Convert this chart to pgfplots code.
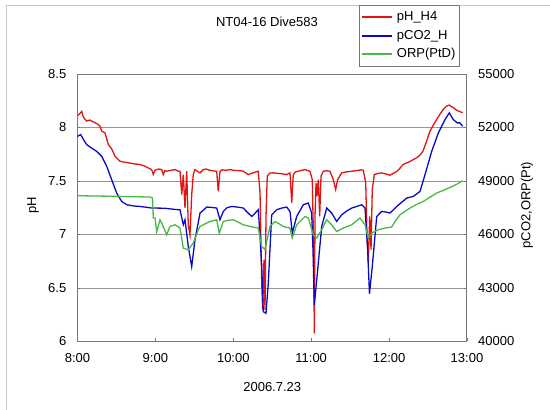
\documentclass[border=0pt]{standalone}
\usepackage{pgfplots}
\pgfplotsset{compat=1.18}
\usepackage{fontspec}
\setmainfont{Liberation Sans}

\definecolor{cred}{RGB}{225,20,20}
\definecolor{cblue}{RGB}{10,10,200}
\definecolor{cgreen}{RGB}{70,185,70}
\definecolor{gridc}{RGB}{150,150,150}
\definecolor{axc}{RGB}{120,120,120}

\newcommand{\fnt}{\fontsize{13}{15}\selectfont}

\begin{document}
\begin{tikzpicture}[font=\fnt]
\path[use as bounding box] (-77.5pt,-68.5pt) rectangle (472.5pt,341.5pt);
\draw[gray!45, line width=1pt] (-70.5pt,-68.5pt) -- (-70.5pt,335.5pt) -- (472.5pt,335.5pt);

\begin{axis}[
  at={(0pt,0pt)}, anchor=south west,
  scale only axis, width=389.5pt, height=267.5pt,
  xmin=8, xmax=13, ymin=6, ymax=8.5,
  xtick={8,9,10,11,12,13},
  xticklabels={8:00,9:00,10:00,11:00,12:00,13:00},
  ytick={6,6.5,7,7.5,8,8.5},
  yticklabels={6,6.5,7,7.5,8,8.5},
  ytick pos=left, xtick pos=bottom,
  tick align=inside, major tick length=3pt,
  tick style={axc, line width=0.8pt},
  ymajorgrids, major grid style={gridc, line width=0.9pt},
  axis line style={axc, line width=1pt},
  yticklabel style={font=\fnt, inner sep=0pt, anchor=east, xshift=-11pt},
  xticklabel style={font=\fnt, inner sep=0pt, anchor=north, yshift=-12pt},
  xlabel={2006.7.23},
  xlabel style={font=\fnt, at={(axis description cs:0.5,-0.170)}, anchor=center},
  ylabel={pH},
  ylabel style={font=\fnt, at={(axis description cs:-0.114,0.51)}, anchor=center},
  title={NT04-16 Dive583},
  title style={font=\fnt, at={(axis description cs:0.4865,1.172)}, anchor=center},
  clip=true,
]
\addplot[cred, line width=1.3pt] coordinates {
(8.000,8.11) (8.030,8.13) (8.054,8.15) (8.070,8.11) (8.083,8.09) (8.100,8.075) (8.118,8.06)
(8.160,8.07) (8.185,8.058) (8.203,8.054) (8.225,8.045) (8.260,8.03)
(8.289,8.013) (8.311,7.966) (8.353,7.951) (8.395,7.842) (8.443,7.795) (8.481,7.732)
(8.546,7.685) (8.600,7.676) (8.652,7.670) (8.730,7.660) (8.802,7.654) (8.866,7.638) (8.910,7.622) (8.952,7.606)
(8.973,7.560) (8.995,7.600) (9.040,7.612) (9.081,7.607) (9.101,7.560) (9.120,7.598) (9.145,7.591)
(9.200,7.600) (9.252,7.607) (9.290,7.592) (9.316,7.591) (9.338,7.372) (9.358,7.560) (9.380,7.248)
(9.402,7.591) (9.422,7.091) (9.444,6.997) (9.466,7.372) (9.486,7.560) (9.508,7.607)
(9.540,7.590) (9.573,7.576) (9.615,7.607) (9.650,7.612) (9.700,7.600) (9.740,7.595) (9.787,7.591) (9.807,7.404) (9.829,7.591)
(9.860,7.605) (9.900,7.600) (9.958,7.607) (10.000,7.600) (10.040,7.598) (10.085,7.596) (10.128,7.591) (10.160,7.575) (10.193,7.560) (10.225,7.570) (10.257,7.576)
(10.290,7.585) (10.321,7.591) (10.343,7.389) (10.365,6.545) (10.377,6.295) (10.394,6.764) (10.407,6.295)
(10.420,7.170) (10.436,7.545) (10.470,7.575) (10.513,7.576) (10.560,7.572) (10.600,7.570) (10.640,7.566) (10.685,7.560) (10.728,7.576)
(10.750,7.295) (10.770,7.560) (10.800,7.585) (10.834,7.591) (10.880,7.600) (10.920,7.607) (10.950,7.598) (10.985,7.591) (11.014,7.513)
(11.032,6.858) (11.040,6.077) (11.049,7.170) (11.062,7.483) (11.074,7.357) (11.091,7.513)
(11.109,7.170) (11.126,7.545) (11.155,7.591) (11.200,7.596) (11.241,7.591) (11.284,7.513) (11.314,7.420)
(11.340,7.513) (11.392,7.576) (11.450,7.585) (11.520,7.591) (11.560,7.595) (11.600,7.598) (11.640,7.604) (11.669,7.601) (11.700,7.483)
(11.716,7.014) (11.733,6.733) (11.751,7.170) (11.768,6.858) (11.784,7.420) (11.810,7.560)
(11.850,7.570) (11.905,7.576) (11.960,7.565) (12.011,7.554) (12.050,7.570) (12.098,7.589) (12.140,7.620) (12.178,7.654) (12.220,7.668) (12.268,7.682) (12.310,7.700) (12.354,7.717)
(12.400,7.745) (12.435,7.779) (12.480,7.870) (12.525,7.966) (12.570,8.025) (12.611,8.076) (12.650,8.120) (12.696,8.170) (12.740,8.200) (12.773,8.210) (12.800,8.195) (12.824,8.186)
(12.860,8.165) (12.888,8.154) (12.920,8.145) (12.945,8.139)
};
\end{axis}

\begin{axis}[
  at={(0pt,0pt)}, anchor=south west,
  scale only axis, width=389.5pt, height=267.5pt,
  xmin=8, xmax=13, ymin=40000, ymax=55000,
  axis x line=none, axis y line*=right,
  ytick={40000,43000,46000,49000,52000,55000},
  scaled y ticks=false,
  tick align=inside, major tick length=3pt,
  tick style={axc, line width=0.8pt},
  axis line style={axc, line width=1pt},
  yticklabel style={font=\fnt, inner sep=0pt, anchor=west, xshift=11pt,
    /pgf/number format/assume math mode=true, /pgf/number format/1000 sep={}},
  ylabel={pCO2,ORP(Pt)},
  ylabel style={font=\fnt, at={(axis description cs:1.154,0.51)}, anchor=center},
  legend style={at={(axis description cs:0.7227,1.258)}, anchor=north west,
    draw=axc, line width=0.8pt, fill=white, font=\fnt, inner xsep=3pt, inner ysep=4pt,
    row sep=2.5pt, nodes={inner sep=1.5pt, text height=10pt, text depth=3pt},
    /tikz/every odd column/.append style={column sep=3pt}},
  legend cell align=left,
  legend image code/.code={\fill[#1, draw=none] (0pt,-1.1pt) rectangle (30pt,1.1pt);},
  clip=true,
]
\addlegendimage{cred}
\addlegendentry{pH\_H4}
\addplot[cblue, line width=1.3pt] coordinates {
(8.000,51506) (8.041,51601) (8.080,51300) (8.118,51040) (8.180,50850) (8.246,50663) (8.311,50382) (8.375,49820)
(8.439,49073) (8.503,48326) (8.567,47854) (8.632,47669) (8.720,47600) (8.802,47573) (8.880,47530)
(8.952,47483) (9.040,47480) (9.123,47472) (9.200,47430) (9.294,47388) (9.316,47388) (9.358,46545) (9.380,46826)
(9.422,45326) (9.466,44202) (9.508,45702) (9.573,47202) (9.659,47539) (9.720,47520) (9.787,47483)
(9.829,46826) (9.872,47292) (9.920,47500) (9.979,47573) (10.050,47540) (10.128,47483) (10.180,47250) (10.236,47011) (10.280,47200) (10.321,47388)
(10.343,45888) (10.365,44202) (10.385,41674) (10.420,41584) (10.449,43270) (10.493,47107)
(10.557,47388) (10.620,47480) (10.685,47539) (10.728,47292) (10.757,46079) (10.814,47011) (10.899,47669)
(10.963,47764) (11.006,47202) (11.023,45140) (11.040,42051) (11.071,43455) (11.135,46449)
(11.199,47483) (11.263,47202) (11.327,46730) (11.392,47107) (11.460,47330) (11.520,47483) (11.590,47580) (11.648,47669)
(11.691,47483) (11.725,45140) (11.748,42669) (11.784,44202) (11.841,47011) (11.905,47292)
(11.960,47260) (12.011,47202) (12.060,47400) (12.098,47573) (12.160,47800) (12.226,48045) (12.311,48135) (12.397,48416) (12.461,49354)
(12.547,50663) (12.632,51697) (12.718,52444) (12.773,52820) (12.824,52444) (12.875,52258)
(12.910,52258) (12.945,52067)
};
\addlegendentry{pCO2\_H}
\addplot[cgreen, line width=1.3pt] coordinates {
(8.000,48174) (8.417,48146) (8.931,48101) (8.963,48045) (8.973,46921) (8.995,46921)
(9.017,46168) (9.059,46826) (9.081,46640) (9.145,45983) (9.187,46449) (9.252,46545)
(9.316,46360) (9.358,45236) (9.422,45140) (9.486,45517) (9.551,46264) (9.573,46449)
(9.640,46600) (9.701,46730) (9.787,46826) (9.820,46079) (9.872,46730) (9.940,46800) (10.000,46826) (10.060,46700) (10.128,46545)
(10.190,46480) (10.257,46416) (10.321,46360) (10.365,45309) (10.407,45169) (10.471,46449) (10.535,46730)
(10.590,46600) (10.642,46449) (10.728,46360) (10.757,45798) (10.814,46545) (10.920,47011) (10.963,46921)
(11.027,45983) (11.071,45798) (11.135,46264) (11.199,46826) (11.263,46545) (11.327,46168)
(11.412,46360) (11.520,46545) (11.626,46921) (11.691,46545) (11.733,45798) (11.777,46079)
(11.861,46264) (11.947,46360) (12.033,46416) (12.076,46730) (12.140,47107) (12.268,47483)
(12.350,47680) (12.439,47854) (12.520,48080) (12.611,48326) (12.700,48480) (12.782,48641) (12.870,48820) (12.945,49017)
};
\addlegendentry{ORP(PtD)}
\end{axis}
\end{tikzpicture}
\end{document}
